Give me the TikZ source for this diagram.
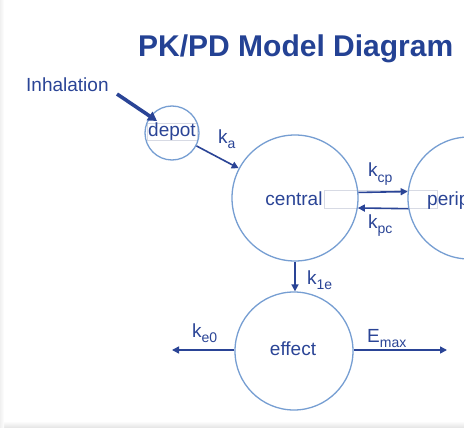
\documentclass[tikz,border=0pt]{standalone}
\usepackage{fontspec}
\setmainfont{Liberation Sans}
\usetikzlibrary{arrows.meta}
\definecolor{ring}{RGB}{118,158,210}
\definecolor{ink}{RGB}{42,68,150}
\definecolor{titleink}{RGB}{36,66,148}
\definecolor{boxline}{RGB}{215,218,228}
\newcommand{\kl}[2]{#1\raisebox{-0.3em}{\fontsize{14}{14}\selectfont #2}}
\tikzset{
  comp/.style={circle, draw=ring, line width=1.3pt, inner sep=0pt},
  lbl/.style={font=\fontsize{19}{19}\selectfont, text=ink, inner sep=0pt, anchor=base west},
  flow/.style={draw=ink, line width=1.6pt, -{Triangle[length=7pt,width=7pt]}},
  tbox/.style={draw=boxline, line width=0.6pt}
}
\begin{document}
\begin{tikzpicture}[x=1pt,y=-1pt]
\useasboundingbox (0,0) rectangle (464,428);
\clip (0,0) rectangle (464,428);
\fill[white] (0,0) rectangle (464,428);
\shade[top color=white, bottom color=gray!22] (0,421) rectangle (464,428);
\shade[left color=gray!12, right color=white] (0,0) rectangle (4,428);
% text boxes
\draw[tbox] (147,123) rectangle (197,140);
\draw[tbox] (324,190) rectangle (437,208);
% compartments
\node[comp, minimum size=54pt] (depot) at (172,133) {};
\node[comp, minimum size=126pt] (central) at (295,198) {};
\node[comp, minimum size=122pt] (periph) at (469,198) {};
\node[comp, minimum size=118pt] (effect) at (294,351) {};
% compartment texts
\node[lbl, anchor=base] (tdepot) at (172,137) {depot};
\node[lbl, anchor=base] (tcentral) at (294,205) {central};
\node[lbl] (tperiph) at (427,205) {peripheral};
\node[lbl, anchor=base] (teffect) at (293,355) {effect};
% title
\node[font=\fontsize{30}{30}\selectfont\bfseries, text=titleink, inner sep=0pt, anchor=base west] (title) at (138,56.5) {PK/PD Model Diagram};
% inhalation
\node[lbl] (inh) at (26,92) {Inhalation};
\coordinate (inhs) at (117,94);
\coordinate (inhe) at (157,121);
\draw[draw=ink, line width=3.6pt, -{Triangle[length=9pt,width=10pt]}] (inhs) -- (inhe);
% flows
\draw[flow] (depot) -- (central);
\draw[flow] (central.5.5) -- (periph.174.4);
\draw[flow] (periph.-170.6) -- (central.-9.2);
\draw[flow] (central.south) -- (central.south |- effect.north);
\coordinate (ke0end) at (172,350);
\coordinate (emaxend) at (447,350);
\draw[flow] (effect.west |- ke0end) -- (ke0end);
\draw[flow] (effect.east |- emaxend) -- (emaxend);
% rate labels
\node[lbl] (lka) at (218,143) {\kl{k}{a}};
\node[lbl] (lkcp) at (368,177) {\kl{k}{cp}};
\node[lbl] (lkpc) at (368,228) {\kl{k}{pc}};
\node[lbl] (lk1e) at (307,284) {\kl{k}{1e}};
\node[lbl] (lke0) at (192,337) {\kl{k}{e0}};
\node[lbl] (lemax) at (367,342) {\kl{E}{max}};
\end{tikzpicture}
\end{document}
